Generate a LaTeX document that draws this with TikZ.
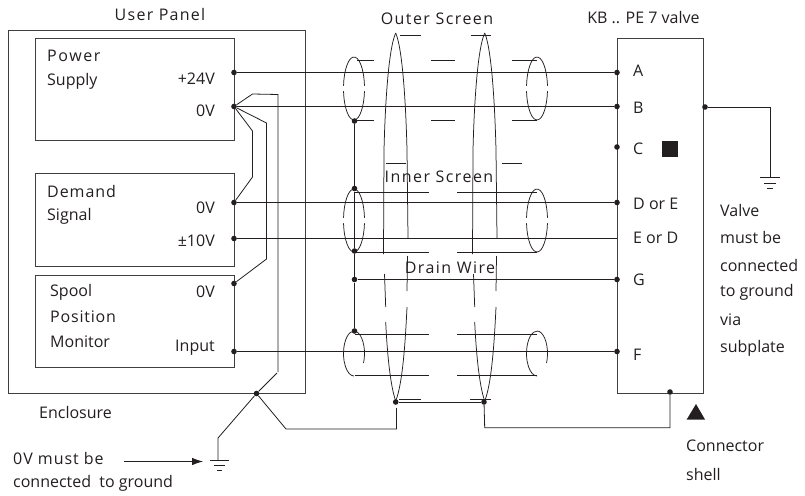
\documentclass[tikz,border=0pt]{standalone}
\usepackage{fontspec}
\usetikzlibrary{arrows.meta}
\setmainfont{Open Sans}
\definecolor{inkdark}{HTML}{231F20}
\definecolor{boxgray}{HTML}{3F3F3F}
\tikzset{
  panelbox/.style={draw=boxgray, line width=0.9pt, rectangle, inner sep=0pt},
  wire/.style={draw=inkdark, line width=0.8pt},
  screen/.style={draw=inkdark, line width=0.75pt},
  pin/.style={circle, fill=inkdark, inner sep=0pt, minimum size=5.6pt},
  lbl/.style={text=inkdark, font=\fontsize{16}{19}\selectfont, inner sep=0pt},
  lblL/.style={lbl, anchor=west},
  lblR/.style={lbl, anchor=east},
  spaced/.style={font=\fontsize{16}{19}\selectfont\addfontfeature{LetterSpace=#1}}
}
\begin{document}
\begin{tikzpicture}[x=1pt, y=-1pt]
  \useasboundingbox (0,0) rectangle (805,495);

% boxes
\node[panelbox, minimum width=297pt, minimum height=363pt] (enclosure) at (157,212) {};
\node[panelbox, minimum width=199pt, minimum height=101.5pt] (powerbox) at (134.5,89.3) {};
\node[panelbox, minimum width=199pt, minimum height=92.5pt] (demandbox) at (134.5,219.8) {};
\node[panelbox, minimum width=199pt, minimum height=92.7pt] (spoolbox) at (134.5,321.3) {};
\node[panelbox, minimum width=86pt, minimum height=355.7pt] (valvebox) at (660,215.9) {};

% pins on the panel
\node[pin] (p24) at (234,72.5) {};
\node[pin] (ps0) at (234,106.5) {};
\node[pin] (dm0) at (234,202.5) {};
\node[pin] (dm10) at (234,238.5) {};
\node[pin] (sp0) at (234,283.5) {};
\node[pin] (spin) at (234,351.5) {};

% pins on the valve
\node[pin] (pinA) at (617,72.5) {};
\node[pin] (pinB) at (617,106.5) {};
\node[pin] (pinC) at (617,147) {};
\node[pin] (pinD) at (617,202.5) {};
\coordinate (pinE) at (617,238.5);
\node[pin] (pinG) at (617,279.5) {};
\node[pin] (pinF) at (617,351.5) {};
\node[pin] (valvegnd) at (705,107) {};
\node[pin] (shell) at (670,392) {};

% pins on the screens
\node[pin] (outerL) at (354.5,121) {};
\node[pin] (innerL) at (354.5,188.5) {};
\node[pin] (innerB) at (354.5,251) {};
\node[pin] (drainL) at (354.5,279.5) {};
\node[pin] (lowerL) at (354.5,331) {};
\node[pin] (lensA) at (395.7,402) {};
\node[pin] (lensB) at (484,402) {};
\node[pin] (encl) at (256.5,393.5) {};

% signal wires
\draw[wire] (p24) -- (pinA);
\draw[wire] (ps0) -- (pinB);
\draw[wire] (dm0) -- (pinD);
\draw[wire] (dm10) -- (pinE);
\draw[wire] (spin) -- (pinF);
\draw[wire] (drainL) -- (pinG);

% 0V links
\coordinate (endA) at (278,372);
\coordinate (endB) at (277,373);
\draw[wire] (ps0) -- (252.5,94) -- (278,94.5) -- (endA);
\draw[wire] (ps0) -- (266.5,123) -- (266.5,259) -- (sp0);
\draw[wire] (ps0) -- (252.5,131) -- (252.5,177) -- (dm0);
\draw[wire] (endB) -- (encl);

% screen links
\draw[wire] (outerL) -- (innerL);
\draw[wire] (innerL) -- (innerB);
\draw[wire] (innerB) -- (drainL);
\draw[wire] (drainL) -- (lowerL);
\draw[wire] (lensA) -- (lensB);

% ground and shell
\coordinate (gndL) at (218,460);
\coordinate (gndV) at (770,177);
\coordinate (lensAend) at (396.5,408);
\draw[wire] (encl) -- (218,438) -- (gndL);
\draw[wire] (encl) -- (286,429) -- (396.5,429) -- (lensAend);
\draw[wire] (lensB) -- (484.7,427.7) -- (670,427.7) -- (shell);
\draw[wire] (valvegnd) -- (770,107) -- (gndV);

\draw[wire] (210,460) -- (229,460);
\draw[wire] (214,465) -- (225,465);
\draw[wire] (217,470) -- (222,470);
\draw[wire] (760,177) -- (780,177);
\draw[wire] (764,183) -- (776,183);
\draw[wire] (767,188) -- (773,188);

% screen ends
\draw[screen] (354,88.5) ++(5:10.5pt and 31.5pt) arc (5:175:10.5pt and 31.5pt);
\draw[screen] (354,88.5) ++(185:10.5pt and 31.5pt) arc (185:355:10.5pt and 31.5pt);
\draw[screen] (537,88.5) ++(5:10.5pt and 31.5pt) arc (5:175:10.5pt and 31.5pt);
\draw[screen] (537,88.5) ++(185:10.5pt and 31.5pt) arc (185:355:10.5pt and 31.5pt);
\draw[screen] (354,220.5) ++(5:10.5pt and 31.5pt) arc (5:175:10.5pt and 31.5pt);
\draw[screen] (354,220.5) ++(185:10.5pt and 31.5pt) arc (185:355:10.5pt and 31.5pt);
\draw[screen] (537,220.5) ++(5:10.5pt and 31.5pt) arc (5:175:10.5pt and 31.5pt);
\draw[screen] (537,220.5) ++(185:10.5pt and 31.5pt) arc (185:355:10.5pt and 31.5pt);
\draw[screen] (354,353.5) ++(-25:10.5pt and 22.5pt) arc (-25:270:10.5pt and 22.5pt);
\draw[screen] (537,353.5) ++(-25:10.5pt and 22.5pt) arc (-25:270:10.5pt and 22.5pt);

% screen sides
\draw[screen] (357,60) -- (374,60);
\draw[screen] (431,60) -- (455,60);
\draw[screen] (512,60) -- (537,60);
\draw[screen] (357,120) -- (374,120);
\draw[screen] (431,120) -- (455,120);
\draw[screen] (512,120) -- (537,120);
\draw[screen] (355,192) -- (429,192);
\draw[screen] (457,192) -- (537,192);
\draw[screen] (355,252.5) -- (429,252.5);
\draw[screen] (457,252.5) -- (537,252.5);
\draw[screen] (355,334) -- (429,334);
\draw[screen] (457,334) -- (537,334);
\draw[screen] (355,375.5) -- (429,375.5);
\draw[screen] (457,375.5) -- (537,375.5);

% outer screen
\draw[screen] (395.7,33) .. controls (388,50) and (385,110) .. (384,150) -- (383.5,254);
\draw[screen] (395.7,33) .. controls (403,50) and (406,110) .. (407,150) -- (408,238);
\draw[screen] (384.5,274) -- (385.7,307);
\draw[screen] (407.5,256) -- (407,291);
\draw[screen] (385.7,322) .. controls (387,350) and (390,385) .. (395.7,401);
\draw[screen] (407,307) .. controls (405,350) and (402,385) .. (395.7,401);
\draw[screen] (484.7,33) .. controls (477,50) and (474,110) .. (473,150) -- (472.5,254);
\draw[screen] (484.7,33) .. controls (492,50) and (495,110) .. (496,150) -- (497,238);
\draw[screen] (473.5,274) -- (474.7,307);
\draw[screen] (496.5,256) -- (496,291);
\draw[screen] (474.7,322) .. controls (476,350) and (479,385) .. (484.7,401);
\draw[screen] (496,307) .. controls (494,350) and (491,385) .. (484.7,401);
\draw[screen] (400,35) -- (421,35);
\draw[screen] (470.7,35) -- (490.7,35);
\draw[screen] (386,163) -- (406,163);
\draw[screen] (502,163) -- (522,163);
\draw[screen] (399,399) -- (421,399);
\draw[screen] (470,399) -- (491,399);

% marks
\fill[inkdark] (662,141) rectangle (678,156.7);
\fill[inkdark] (686.7,419.5) -- (705,419.5) -- (696,404) -- cycle;

% arrow to ground
\coordinate (arrowA) at (124,461.5);
\coordinate (arrowB) at (203,461.5);
\draw[wire, -{Latex[length=11pt,width=7.5pt]}] (arrowA) -- (arrowB);

% labels
\node[lbl, spaced=8] (userpanel) at (160,15) {User Panel};
\node[lbl, spaced=9] (outerscreen) at (437,19) {Outer Screen};
\node[lbl, spaced=9] (innerscreen) at (439,177) {Inner Screen};
\node[lbl, spaced=9] (drainwire) at (450,268) {Drain Wire};
\node[lbl] (valvename) at (643.5,18) {KB .. PE 7 valve};

\node[lblL, spaced=10] (power) at (47,56) {Power};
\node[lblL] (supply) at (47,81) {Supply};
\node[lblR] (v24) at (215,79) {+24V};
\node[lblR] (v0a) at (215,111) {0V};
\node[lblL, spaced=6] (demand) at (47,191) {Demand};
\node[lblL] (signal) at (47,216) {Signal};
\node[lblR] (v0b) at (215,208) {0V};
\node[lblR] (v10) at (215,241) {±10V};
\node[lblL] (spool) at (50,292) {Spool};
\node[lblL, spaced=5] (position) at (50,317) {Position};
\node[lblL] (monitor) at (50,342) {Monitor};
\node[lblR] (v0c) at (215,292) {0V};
\node[lblR] (input) at (215,348) {Input};
\node[lblL] (enclname) at (39,412) {Enclosure};
\node[lblL, spaced=6] (must) at (13,458) {0V must be};
\node[lblL] (conn) at (13,483) {connected\ \ to ground};

\node[lblL] (lblA) at (633,71) {A};
\node[lblL] (lblB) at (633,108) {B};
\node[lblL] (lblC) at (633,149) {C};
\node[lblL] (lblD) at (633,204) {D or E};
\node[lblL] (lblE) at (633,238) {E or D};
\node[lblL] (lblG) at (633,280) {G};
\node[lblL] (lblF) at (633,355) {F};

\node[lblL] (val1) at (720,210) {Valve};
\node[lblL] (val2) at (720,237) {must be};
\node[lblL] (val3) at (720,265) {connected};
\node[lblL] (val4) at (720,292) {to ground};
\node[lblL] (val5) at (720,320) {via};
\node[lblL] (val6) at (720,348) {subplate};
\node[lblL] (shell1) at (686,446) {Connector};
\node[lblL] (shell2) at (686,474) {shell};

\end{tikzpicture}
\end{document}
